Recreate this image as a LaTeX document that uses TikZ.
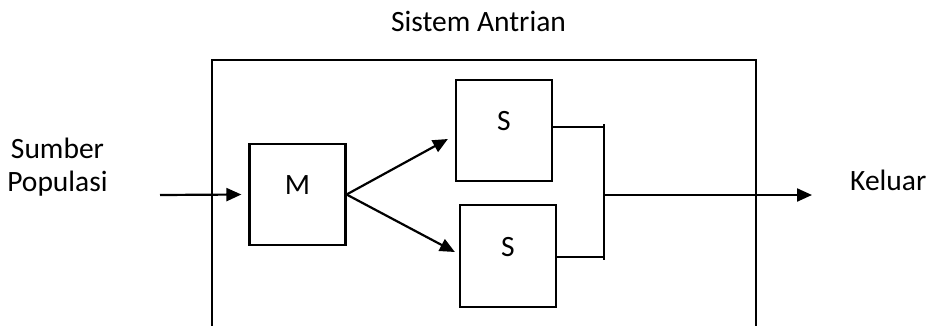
\documentclass[tikz,border=0pt]{standalone}
\usepackage{fontspec}
\setmainfont{Carlito}
\usetikzlibrary{arrows.meta,calc}
\begin{document}
\begin{tikzpicture}[x=1pt,y=-1pt,
  box/.style={draw=black,line width=2.2pt,minimum width=96pt,minimum height=101pt,inner sep=0pt},
  lbl/.style={font=\fontsize{29.5}{33}\selectfont,inner sep=0pt},
  ln/.style={line width=2.2pt},
  arr/.style={line width=2.2pt,-{Triangle[length=15pt,width=13pt]}}]
\useasboundingbox (0,0) rectangle (932,325);
% outer system box (open at bottom)
\draw[ln] (212,326) -- (212,60) -- (756,60) -- (756,326);
% boxes
\node[box] (M) at (297.5,194.5) {};
\node[box] (St) at (504,130.5) {};
\node[box,minimum height=102pt] (Sb) at (508,256) {};
\node[lbl] (Mt) at (297.5,185.5) {M};
\node[lbl] (Stt) at (504,121.5) {S};
\node[lbl] (Sbt) at (508,247) {S};
% texts
\node[lbl,anchor=base] (src1) at (57.5,158) {Sumber};
\node[lbl,anchor=base] (src2) at (57.5,191) {Populasi};
\node[lbl,anchor=base west] (out) at (850,190) {Keluar};
\node[lbl,anchor=base] (sys) at (478.5,31) {Sistem Antrian};
% connectors
\coordinate (in) at (160,195);
\draw[arr] (in) -- ($(M.west)+(-7,0)$);
\draw[arr] (M.east) -- ($(St.west)+(-7,8.5)$);
\draw[arr] (M.east) -- ($(Sb.west)+(-4,-4)$);
\coordinate (jt) at (604,127);
\coordinate (jb) at (604,257);
\coordinate (jm) at (604,195);
\coordinate (ex) at (812,195);
\draw[ln] (St.east |- jt) -- (jt);
\draw[ln] (Sb.east |- jb) -- (jb);
\draw[ln] ($(jt)+(0,-3)$) -- ($(jb)+(0,3)$);
\draw[arr] (jm) -- (ex);
\end{tikzpicture}
\end{document}
